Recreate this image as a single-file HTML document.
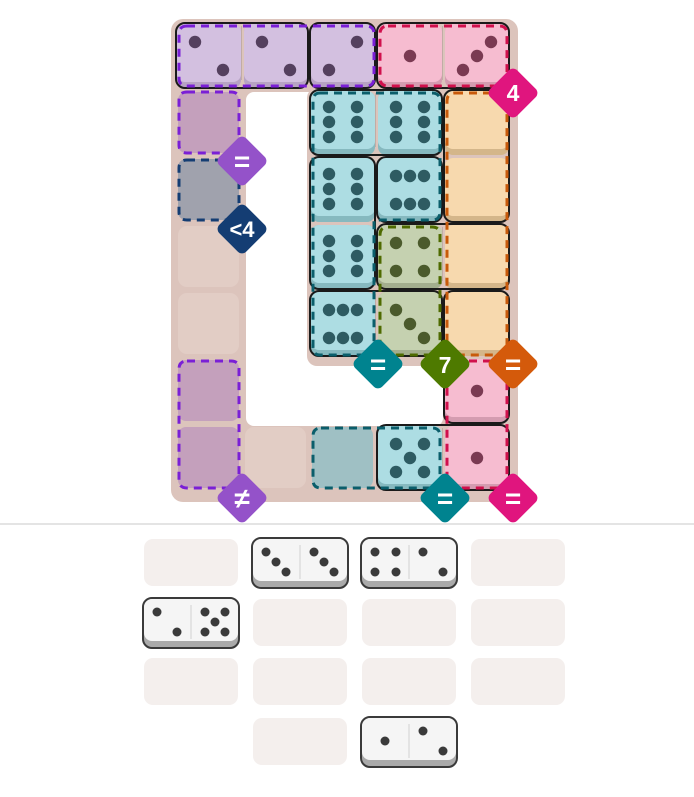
<!DOCTYPE html>
<html><head><meta charset="utf-8"><style>
html,body{margin:0;padding:0;background:#fff;width:694px;height:797px;overflow:hidden;font-family:"Liberation Sans",sans-serif}
svg{position:absolute;left:0;top:0}
</style></head><body>
<svg id="s" width="694" height="797" viewBox="0 0 694 797" xmlns="http://www.w3.org/2000/svg">
<defs><clipPath id="cb"><rect x="0" y="0" width="694" height="524"/></clipPath></defs>
<g id="board"></g>
<line x1="0" y1="524" x2="694" y2="524" stroke="#dcdcdc" stroke-width="1.5"/>
<g id="tray"></g>
<g id="badges" clip-path="url(#cb)" font-family="Liberation Sans, sans-serif" font-weight="bold" fill="#fff" text-anchor="middle">
</g>
</svg>
<script>
var B=document.getElementById('board'),T=document.getElementById('tray'),G=document.getElementById('badges');
var h='';
function X(c){return 178+67*c}function Y(r){return 25+67*r}
h+='<rect x="171" y="19" width="347" height="483" rx="12" fill="#dcc4bc"/>';
h+='<rect x="246" y="92" width="197" height="334" rx="8" fill="#fff"/>';
h+='<rect x="307" y="88" width="211" height="278" rx="10" fill="#dcc4bc"/>';
[[0,3],[0,4],[1,6]].forEach(function(p){h+='<rect x="'+X(p[0])+'" y="'+Y(p[1])+'" width="61" height="61" rx="9" fill="#e2cdc5"/>';});
function fill(c,r,col){h+='<rect x="'+X(c)+'" y="'+Y(r)+'" width="61" height="61" rx="8" fill="'+col+'"/>';}
fill(0,1,'#c4a0bc');fill(0,2,'#a0a2ad');fill(0,5,'#c4a0bc');fill(0,6,'#c4a0bc');fill(2,6,'#9fc0c4');
var pips={1:[[31,31]],2:[[17,17],[45,45]],'2b':[[45,17],[17,45]],3:[[17,17],[31,31],[45,45]],'3b':[[45,17],[31,31],[17,45]],4:[[17,17],[45,17],[17,45],[45,45]],5:[[17,17],[45,17],[31,31],[17,45],[45,45]],6:[[17,15],[45,15],[17,30],[45,30],[17,45],[45,45]],'6h':[[17,17],[31,17],[45,17],[17,45],[31,45],[45,45]]};
function tile(c,r,fillc,sh,dot,pp){var x=X(c)-1,y=Y(r)-1;
h+='<rect x="'+x+'" y="'+y+'" width="64" height="64" rx="8" fill="'+sh+'"/>';
h+='<rect x="'+x+'" y="'+y+'" width="64" height="58" rx="8" fill="'+fillc+'"/>';
if(pp)pips[pp].forEach(function(d){h+='<circle cx="'+(x+1+d[0])+'" cy="'+(y+1+d[1])+'" r="6.2" fill="'+dot+'"/>';});}
var PU=['#d3c0e0','#b7a3c4','#54405e'],PK=['#f6bcd0','#d49cb0','#7a3a52'],BL=['#addde3','#86b9bf','#2e5b62'],GR=['#c5d1b0','#a3ae8e','#4b5a2c'],OR=['#f7d9ae','#d4b68a',''];
function t(c,r,k,p){tile(c,r,k[0],k[1],k[2],p);}
t(0,0,PU,2);t(1,0,PU,2);t(2,0,PU,'2b');t(3,0,PK,1);t(4,0,PK,'3b');
t(2,1,BL,6);t(3,1,BL,6);t(4,1,OR);
t(2,2,BL,6);t(3,2,BL,'6h');t(4,2,OR);
t(2,3,BL,6);t(3,3,GR,4);t(4,3,OR);
t(2,4,BL,'6h');t(3,4,GR,3);t(4,4,OR);
t(4,5,PK,1);t(3,6,BL,5);t(4,6,PK,1);
function dom(c1,r1,c2,r2){var x=X(c1)-2,y=Y(r1)-2,w=X(c2)+63-x,hh=Y(r2)+63-y;
h+='<rect x="'+x+'" y="'+y+'" width="'+w+'" height="'+hh+'" rx="9" fill="none" stroke="#1a1a1a" stroke-width="2"/>';
if(c2>c1)h+='<line x1="'+(X(c1)+63.5)+'" y1="'+(y+3)+'" x2="'+(X(c1)+63.5)+'" y2="'+(y+hh-8)+'" stroke="rgba(0,0,0,0.12)"/>';}
dom(0,0,1,0);dom(2,0,2,0);dom(3,0,4,0);dom(2,1,3,1);dom(2,2,2,3);dom(3,2,3,2);dom(3,3,4,3);dom(2,4,3,4);dom(4,1,4,2);dom(4,4,4,5);dom(3,6,4,6);
function reg(d,col){h+='<path d="'+d+'" fill="none" stroke="'+col+'" stroke-width="3" stroke-dasharray="8,6" stroke-linejoin="round"/>';}
function rr(x1,y1,x2,y2){var r=8;return 'M'+(x1+r)+' '+y1+'H'+(x2-r)+'Q'+x2+' '+y1+' '+x2+' '+(y1+r)+'V'+(y2-r)+'Q'+x2+' '+y2+' '+(x2-r)+' '+y2+'H'+(x1+r)+'Q'+x1+' '+y2+' '+x1+' '+(y2-r)+'V'+(y1+r)+'Q'+x1+' '+y1+' '+(x1+r)+' '+y1+'Z';}
reg(rr(179,26,374,86),'#7a1fd6');
reg(rr(179,92,239,153),'#7a1fd6');
reg(rr(380,26,507,86),'#d0104c');
reg(rr(179,160,239,220),'#143d73');
reg('M320 93H432Q440 93 440 101V212Q440 220 432 220H374V347Q374 355 366 355H320Q313 355 313 347V101Q313 93 320 93Z','#0b5e6b');
reg(rr(380,227,440,355),'#4e6a00');
reg(rr(447,93,507,355),'#c85a0b');
reg(rr(447,361,507,488),'#d0104c');
reg(rr(179,361,239,488),'#7a1fd6');
reg(rr(313,428,440,488),'#0b5e6b');
B.innerHTML=h;
var g='';
function badge(cx,cy,col){g+='<rect x="'+(cx-19)+'" y="'+(cy-19)+'" width="38" height="38" rx="6" fill="'+col+'" transform="rotate(45 '+cx+' '+cy+')"/>';}
badge(513,93,'#e0157e');badge(242,161,'#9452c9');badge(242,229,'#143d73');badge(378,364,'#00838f');badge(445,364,'#4e7a00');badge(513,364,'#d45a0b');badge(242,498,'#9452c9');badge(445,498,'#00838f');badge(513,498,'#e0157e');
G.innerHTML=g+
'<text x="513" y="101" font-size="23">4</text>'+
'<text x="242" y="171" font-size="28">=</text>'+
'<text x="242" y="237" font-size="22">&lt;4</text>'+
'<text x="378" y="374" font-size="28">=</text>'+
'<text x="445" y="373" font-size="23">7</text>'+
'<text x="513" y="374" font-size="28">=</text>'+
'<text x="242" y="508" font-size="28">≠</text>'+
'<text x="445" y="508" font-size="28">=</text>'+
'<text x="513" y="508" font-size="28">=</text>';
var tr='';var cx=[144,253,362,471],ry=[539,599,658,718];
function slot(c,r){tr+='<rect x="'+cx[c]+'" y="'+ry[r]+'" width="94" height="47" rx="9" fill="#f4efed"/>';}
var lay={1:[[23,23]],2:[[13,13],[33,33]],3:[[13,13],[23,23],[33,33]],4:[[13,13],[34,13],[13,33],[34,33]],5:[[13,13],[33,13],[23,23],[13,33],[33,33]]};
function dd(c,r,a,b){var x=cx[c]-1,y=ry[r]-1;
tr+='<rect x="'+x+'" y="'+y+'" width="96" height="50" rx="9" fill="#aaa" stroke="#3a3a3a" stroke-width="2"/>';
tr+='<rect x="'+(x+1)+'" y="'+(y+1)+'" width="94" height="42" rx="8" fill="#f5f5f5"/>';
tr+='<line x1="'+(x+48)+'" y1="'+(y+7)+'" x2="'+(x+48)+'" y2="'+(y+41)+'" stroke="#ddd" stroke-width="1.5"/>';
[[a,0],[b,48]].forEach(function(q){lay[q[0]].forEach(function(d){tr+='<circle cx="'+(x+q[1]+d[0]+1)+'" cy="'+(y+d[1]+1)+'" r="4.5" fill="#3a3a3a"/>';});});}
for(var r=0;r<4;r++)for(var c=0;c<4;c++){if(r==3&&(c==0||c==3))continue;if((r==0&&(c==1||c==2))||(r==1&&c==0)||(r==3&&c==2))continue;slot(c,r);}
dd(1,0,3,3);dd(2,0,4,2);dd(0,1,2,5);dd(2,3,1,2);
T.innerHTML=tr;
</script>
</body></html>
